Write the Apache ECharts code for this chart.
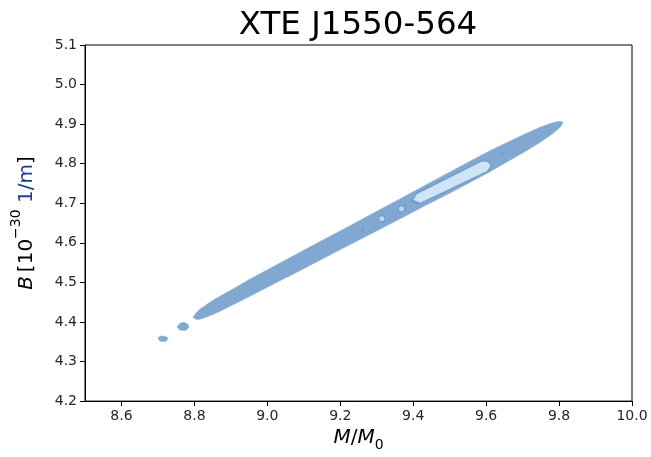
<!DOCTYPE html>
<html>
<head>
<meta charset="utf-8">
<script src="https://cdn.jsdelivr.net/npm/echarts@6/dist/echarts.min.js"></script>
<style>html,body{margin:0;padding:0;background:#fff}#c{width:651px;height:457px}</style>
</head>
<body>
<div id="c"></div>
<script>
// Tick labels
const xTicks = [8.6, 8.8, 9.0, 9.2, 9.4, 9.6, 9.8, 10.0];
const yTicks = [4.2, 4.3, 4.4, 4.5, 4.6, 4.7, 4.8, 4.9, 5.0, 5.1];

// Outer confidence contour (M/M0, B)
const outerX = [8.796, 8.804, 8.815, 8.829, 8.848, 8.870, 8.911, 8.952, 9.021, 9.090, 9.158, 9.227, 9.295, 9.364, 9.432, 9.501, 9.556, 9.611, 9.665, 9.707, 9.748, 9.781, 9.803, 9.811,
                9.803, 9.781, 9.748, 9.707, 9.665, 9.611, 9.556, 9.501, 9.432, 9.364, 9.295, 9.227, 9.158, 9.090, 9.021, 8.952, 8.911, 8.870, 8.848, 8.829, 8.815, 8.804];
const outerY = [4.412, 4.422, 4.432, 4.441, 4.453, 4.465, 4.486, 4.508, 4.542, 4.576, 4.610, 4.643, 4.677, 4.711, 4.745, 4.779, 4.806, 4.833, 4.857, 4.875, 4.892, 4.903, 4.907, 4.904,
                4.892, 4.875, 4.854, 4.831, 4.809, 4.780, 4.753, 4.726, 4.694, 4.661, 4.628, 4.596, 4.563, 4.530, 4.498, 4.465, 4.446, 4.427, 4.418, 4.411, 4.407, 4.407];

// Detached small blobs
const blob1X = [8.700, 8.706, 8.719, 8.728, 8.722, 8.706];
const blob1Y = [4.359, 4.364, 4.364, 4.359, 4.351, 4.351];
const blob2X = [8.752, 8.761, 8.771, 8.782, 8.785, 8.777, 8.761];
const blob2Y = [4.387, 4.397, 4.399, 4.394, 4.387, 4.379, 4.379];

// Middle level ring around the inner region
const ringX = [9.397, 9.408, 9.589, 9.608, 9.616, 9.605, 9.419, 9.399];
const ringY = [4.707, 4.726, 4.809, 4.806, 4.795, 4.779, 4.698, 4.702];

// Inner (highest) level
const innerX = [9.402, 9.410, 9.589, 9.605, 9.611, 9.602, 9.419];
const innerY = [4.709, 4.722, 4.805, 4.803, 4.795, 4.782, 4.702];

// Small islands of the inner level
const islandX = [9.314, 9.368];
const islandY = [4.661, 4.686];

// Small specks of the middle level
const speckX = [9.262, 9.643];
const speckY = [4.634, 4.825];

const zip = (xs, ys) => xs.map((x, i) => [x, ys[i]]);

function polySeries(xs, ys, color) {
  const data = zip(xs, ys);
  return {
    type: 'custom',
    coordinateSystem: 'cartesian2d',
    data: data,
    silent: true,
    renderItem: function (params, api) {
      if (params.dataIndex !== 0) return null;
      const pts = data.map(p => api.coord(p));
      return { type: 'polygon', shape: { points: pts }, style: { fill: color, stroke: color, lineWidth: 0.6 } };
    }
  };
}

const OUTER = '#80a8d0', MID = '#719dcc', INNER = '#d0e5f3';
const FONT = 'DejaVu Sans';

const chart = echarts.init(document.getElementById('c'), null, { renderer: 'canvas' });
chart.setOption({
  animation: false,
  backgroundColor: '#ffffff',
  title: {
    text: 'XTE J1550-564',
    left: 353,
    textAlign: 'center',
    top: 4,
    textStyle: { fontFamily: FONT, fontSize: 32.5, fontWeight: 'normal', color: '#000' }
  },
  grid: { left: 85, right: 19, top: 45, bottom: 55, show: true, borderColor: '#000', borderWidth: 1, backgroundColor: 'transparent' },
  xAxis: {
    type: 'value', min: 8.5, max: 10.0,
    name: '{i|M}{n|/}{i|M}{s|0}',
    nameLocation: 'middle', nameGap: 25,
    nameTextStyle: {
      rich: {
        i: { fontFamily: FONT, fontStyle: 'italic', fontSize: 20, color: '#000', lineHeight: 24, verticalAlign: 'top' },
        n: { fontFamily: FONT, fontSize: 20, color: '#000', lineHeight: 24, verticalAlign: 'top' },
        s: { fontFamily: FONT, fontSize: 14, color: '#000', lineHeight: 24, verticalAlign: 'bottom' }
      }
    },
    axisLine: { show: true, onZero: false, lineStyle: { color: '#000', width: 1 } },
    axisTick: { show: true, length: 5, customValues: xTicks, lineStyle: { color: '#000' } },
    axisLabel: { customValues: xTicks, formatter: v => v.toFixed(1), fontFamily: FONT, fontSize: 14, color: '#262626', margin: 8 },
    splitLine: { show: false }
  },
  yAxis: {
    type: 'value', min: 4.2, max: 5.1,
    name: '{i|B}{n|\u2009[10}{s|\u221230}{b| 1/m}{n|]}',
    nameLocation: 'middle', nameGap: 48, nameRotate: 90,
    nameTextStyle: {
      rich: {
        i: { fontFamily: FONT, fontStyle: 'italic', fontSize: 20, color: '#000', lineHeight: 28, verticalAlign: 'bottom' },
        n: { fontFamily: FONT, fontSize: 20, color: '#000', lineHeight: 28, verticalAlign: 'bottom' },
        b: { fontFamily: FONT, fontSize: 20, color: '#1f3f8f', lineHeight: 28, verticalAlign: 'bottom' },
        s: { fontFamily: FONT, fontSize: 14, color: '#000', lineHeight: 28, verticalAlign: 'top' }
      }
    },
    axisLine: { show: true, onZero: false, lineStyle: { color: '#000', width: 1 } },
    axisTick: { show: true, length: 5, customValues: yTicks, lineStyle: { color: '#000' } },
    axisLabel: { customValues: yTicks, formatter: v => v.toFixed(1), fontFamily: FONT, fontSize: 14, color: '#262626', margin: 8 },
    splitLine: { show: false }
  },
  series: [
    polySeries(outerX, outerY, OUTER),
    polySeries(blob1X, blob1Y, OUTER),
    polySeries(blob2X, blob2Y, OUTER),
    polySeries(ringX, ringY, MID),
    polySeries(innerX, innerY, INNER),
    { type: 'scatter', data: zip(islandX, islandY), symbol: 'circle', symbolSize: 8, itemStyle: { color: MID }, silent: true },
    { type: 'scatter', data: zip(islandX, islandY), symbol: 'circle', symbolSize: 5, itemStyle: { color: INNER }, silent: true },
    { type: 'scatter', data: zip(speckX, speckY), symbol: 'circle', symbolSize: 4, itemStyle: { color: MID }, silent: true }
  ]
});
</script>
</body>
</html>
